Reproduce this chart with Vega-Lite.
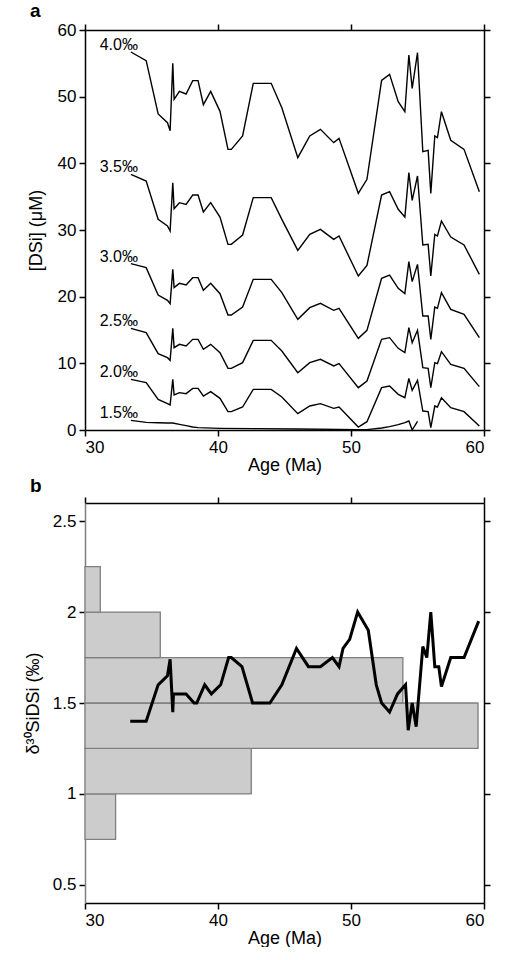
{
  "$schema": "https://vega.github.io/schema/vega-lite/v6.json",
  "padding": {"left": 24, "top": 2, "right": 5, "bottom": 0},
  "spacing": 3,
  "config": {
    "font": "Liberation Sans",
    "view": {"stroke": null},
    "axis": {
      "labelFontSize": 17, "titleFontSize": 18, "titleFontWeight": "normal",
      "labelColor": "black", "titleColor": "black", "domainColor": "black",
      "tickColor": "black", "domainWidth": 1.5, "tickWidth": 1.5, "tickSize": 6,
      "labelPadding": 3, "grid": false
    },
    "title": {"fontSize": 19, "fontWeight": "bold", "anchor": "start", "color": "black", "frame": "group"}
  },
  "datasets": {
    "curves": [
      {"c":"4.0","a":33.45,"v":56.7},{"c":"4.0","a":34.6,"v":55.4},{"c":"4.0","a":35.5,"v":47.4},{"c":"4.0","a":36.2,"v":46.1},{"c":"4.0","a":36.4,"v":44.9},{"c":"4.0","a":36.6,"v":55.0},{"c":"4.0","a":36.7,"v":49.6},{"c":"4.0","a":37.1,"v":50.8},{"c":"4.0","a":37.6,"v":50.4},{"c":"4.0","a":38.1,"v":52.4},{"c":"4.0","a":38.5,"v":52.4},{"c":"4.0","a":38.9,"v":48.8},{"c":"4.0","a":39.45,"v":50.8},{"c":"4.0","a":40.15,"v":47.8},{"c":"4.0","a":40.75,"v":42.1},{"c":"4.0","a":41.0,"v":42.1},{"c":"4.0","a":41.85,"v":44.1},{"c":"4.0","a":42.65,"v":52.0},{"c":"4.0","a":44.0,"v":52.0},{"c":"4.0","a":44.8,"v":48.35},{"c":"4.0","a":46.0,"v":40.85},{"c":"4.0","a":46.9,"v":44.1},{"c":"4.0","a":47.7,"v":45.1},{"c":"4.0","a":48.7,"v":43.1},{"c":"4.0","a":49.1,"v":43.75},{"c":"4.0","a":50.55,"v":35.5},{"c":"4.0","a":51.2,"v":37.6},{"c":"4.0","a":52.3,"v":52.45},{"c":"4.0","a":52.9,"v":53.35},{"c":"4.0","a":53.55,"v":49.25},{"c":"4.0","a":54.05,"v":47.75},{"c":"4.0","a":54.35,"v":56.25},{"c":"4.0","a":54.6,"v":51.25},{"c":"4.0","a":55.0,"v":56.6},{"c":"4.0","a":55.4,"v":41.75},{"c":"4.0","a":55.8,"v":41.95},{"c":"4.0","a":56.0,"v":35.5},{"c":"4.0","a":56.3,"v":44.1},{"c":"4.0","a":56.5,"v":43.85},{"c":"4.0","a":56.8,"v":47.75},{"c":"4.0","a":57.5,"v":43.45},{"c":"4.0","a":58.5,"v":42.1},{"c":"4.0","a":59.65,"v":35.75},
      {"c":"3.5","a":33.45,"v":38.35},{"c":"3.5","a":34.6,"v":37.35},{"c":"3.5","a":35.5,"v":31.6},{"c":"3.5","a":36.2,"v":30.6},{"c":"3.5","a":36.4,"v":29.85},{"c":"3.5","a":36.6,"v":37.1},{"c":"3.5","a":36.7,"v":33.2},{"c":"3.5","a":37.1,"v":34.1},{"c":"3.5","a":37.6,"v":33.85},{"c":"3.5","a":38.1,"v":35.25},{"c":"3.5","a":38.5,"v":35.25},{"c":"3.5","a":38.9,"v":32.7},{"c":"3.5","a":39.45,"v":34.1},{"c":"3.5","a":40.15,"v":31.95},{"c":"3.5","a":40.75,"v":27.85},{"c":"3.5","a":41.0,"v":27.85},{"c":"3.5","a":41.85,"v":29.25},{"c":"3.5","a":42.65,"v":34.85},{"c":"3.5","a":44.0,"v":34.85},{"c":"3.5","a":44.8,"v":31.6},{"c":"3.5","a":46.0,"v":26.95},{"c":"3.5","a":46.9,"v":29.35},{"c":"3.5","a":47.7,"v":30.1},{"c":"3.5","a":48.7,"v":28.6},{"c":"3.5","a":49.1,"v":29.1},{"c":"3.5","a":50.55,"v":23.1},{"c":"3.5","a":51.2,"v":24.7},{"c":"3.5","a":52.3,"v":35.25},{"c":"3.5","a":52.9,"v":35.75},{"c":"3.5","a":53.55,"v":33.1},{"c":"3.5","a":54.05,"v":31.95},{"c":"3.5","a":54.35,"v":38.6},{"c":"3.5","a":54.6,"v":34.45},{"c":"3.5","a":55.0,"v":38.1},{"c":"3.5","a":55.4,"v":27.75},{"c":"3.5","a":55.8,"v":27.85},{"c":"3.5","a":56.0,"v":23.1},{"c":"3.5","a":56.3,"v":29.35},{"c":"3.5","a":56.5,"v":29.1},{"c":"3.5","a":56.8,"v":31.35},{"c":"3.5","a":57.5,"v":28.95},{"c":"3.5","a":58.5,"v":27.75},{"c":"3.5","a":59.65,"v":23.35},
      {"c":"3.0","a":33.45,"v":24.95},{"c":"3.0","a":34.6,"v":24.35},{"c":"3.0","a":35.5,"v":20.25},{"c":"3.0","a":36.2,"v":19.45},{"c":"3.0","a":36.4,"v":18.95},{"c":"3.0","a":36.6,"v":24.1},{"c":"3.0","a":36.7,"v":21.35},{"c":"3.0","a":37.1,"v":22.0},{"c":"3.0","a":37.6,"v":21.75},{"c":"3.0","a":38.1,"v":22.85},{"c":"3.0","a":38.5,"v":22.85},{"c":"3.0","a":38.9,"v":20.95},{"c":"3.0","a":39.45,"v":22.0},{"c":"3.0","a":40.15,"v":20.45},{"c":"3.0","a":40.75,"v":17.25},{"c":"3.0","a":41.0,"v":17.25},{"c":"3.0","a":41.85,"v":18.45},{"c":"3.0","a":42.65,"v":22.6},{"c":"3.0","a":44.0,"v":22.6},{"c":"3.0","a":44.8,"v":20.6},{"c":"3.0","a":46.0,"v":16.6},{"c":"3.0","a":46.9,"v":18.35},{"c":"3.0","a":47.7,"v":19.0},{"c":"3.0","a":48.7,"v":17.95},{"c":"3.0","a":49.1,"v":18.25},{"c":"3.0","a":50.55,"v":13.75},{"c":"3.0","a":51.2,"v":14.95},{"c":"3.0","a":52.3,"v":22.75},{"c":"3.0","a":52.9,"v":23.25},{"c":"3.0","a":53.55,"v":21.25},{"c":"3.0","a":54.05,"v":20.45},{"c":"3.0","a":54.35,"v":25.25},{"c":"3.0","a":54.6,"v":22.25},{"c":"3.0","a":55.0,"v":24.85},{"c":"3.0","a":55.4,"v":17.1},{"c":"3.0","a":55.8,"v":17.1},{"c":"3.0","a":56.0,"v":13.6},{"c":"3.0","a":56.3,"v":18.45},{"c":"3.0","a":56.5,"v":18.25},{"c":"3.0","a":56.8,"v":20.6},{"c":"3.0","a":57.5,"v":18.1},{"c":"3.0","a":58.5,"v":17.35},{"c":"3.0","a":59.65,"v":13.85},
      {"c":"2.5","a":33.45,"v":15.25},{"c":"2.5","a":34.6,"v":14.6},{"c":"2.5","a":35.5,"v":11.45},{"c":"2.5","a":36.2,"v":10.85},{"c":"2.5","a":36.4,"v":10.45},{"c":"2.5","a":36.6,"v":15.25},{"c":"2.5","a":36.7,"v":12.35},{"c":"2.5","a":37.1,"v":12.85},{"c":"2.5","a":37.6,"v":12.6},{"c":"2.5","a":38.1,"v":13.6},{"c":"2.5","a":38.5,"v":13.6},{"c":"2.5","a":38.9,"v":12.1},{"c":"2.5","a":39.45,"v":12.85},{"c":"2.5","a":40.15,"v":11.6},{"c":"2.5","a":40.75,"v":9.25},{"c":"2.5","a":41.0,"v":9.25},{"c":"2.5","a":41.85,"v":10.1},{"c":"2.5","a":42.65,"v":13.45},{"c":"2.5","a":44.0,"v":13.45},{"c":"2.5","a":44.8,"v":11.85},{"c":"2.5","a":46.0,"v":8.6},{"c":"2.5","a":46.9,"v":10.1},{"c":"2.5","a":47.7,"v":10.6},{"c":"2.5","a":48.7,"v":9.6},{"c":"2.5","a":49.1,"v":9.95},{"c":"2.5","a":50.55,"v":6.35},{"c":"2.5","a":51.2,"v":7.35},{"c":"2.5","a":52.3,"v":13.6},{"c":"2.5","a":52.9,"v":13.85},{"c":"2.5","a":53.55,"v":12.25},{"c":"2.5","a":54.05,"v":11.6},{"c":"2.5","a":54.35,"v":15.35},{"c":"2.5","a":54.6,"v":13.1},{"c":"2.5","a":55.0,"v":14.95},{"c":"2.5","a":55.4,"v":9.35},{"c":"2.5","a":55.8,"v":9.25},{"c":"2.5","a":56.0,"v":6.35},{"c":"2.5","a":56.3,"v":10.1},{"c":"2.5","a":56.5,"v":9.95},{"c":"2.5","a":56.8,"v":11.75},{"c":"2.5","a":57.5,"v":9.85},{"c":"2.5","a":58.5,"v":9.25},{"c":"2.5","a":59.65,"v":6.5},
      {"c":"2.0","a":33.45,"v":7.6},{"c":"2.0","a":34.6,"v":7.1},{"c":"2.0","a":35.5,"v":4.6},{"c":"2.0","a":36.2,"v":3.95},{"c":"2.0","a":36.4,"v":3.75},{"c":"2.0","a":36.6,"v":7.6},{"c":"2.0","a":36.7,"v":5.25},{"c":"2.0","a":37.1,"v":5.6},{"c":"2.0","a":37.6,"v":5.45},{"c":"2.0","a":38.1,"v":6.25},{"c":"2.0","a":38.5,"v":6.25},{"c":"2.0","a":38.9,"v":5.1},{"c":"2.0","a":39.45,"v":5.75},{"c":"2.0","a":40.15,"v":4.75},{"c":"2.0","a":40.75,"v":2.75},{"c":"2.0","a":41.0,"v":2.75},{"c":"2.0","a":41.85,"v":3.45},{"c":"2.0","a":42.65,"v":6.1},{"c":"2.0","a":44.0,"v":6.1},{"c":"2.0","a":44.8,"v":4.95},{"c":"2.0","a":46.0,"v":2.45},{"c":"2.0","a":46.9,"v":3.6},{"c":"2.0","a":47.7,"v":3.95},{"c":"2.0","a":48.7,"v":3.25},{"c":"2.0","a":49.1,"v":3.45},{"c":"2.0","a":50.55,"v":0.45},{"c":"2.0","a":51.2,"v":1.25},{"c":"2.0","a":52.3,"v":6.35},{"c":"2.0","a":52.9,"v":6.6},{"c":"2.0","a":53.55,"v":5.35},{"c":"2.0","a":54.05,"v":4.85},{"c":"2.0","a":54.35,"v":7.75},{"c":"2.0","a":54.6,"v":5.95},{"c":"2.0","a":55.0,"v":7.45},{"c":"2.0","a":55.4,"v":2.85},{"c":"2.0","a":55.8,"v":2.75},{"c":"2.0","a":56.0,"v":0.35},{"c":"2.0","a":56.3,"v":3.6},{"c":"2.0","a":56.5,"v":3.45},{"c":"2.0","a":56.8,"v":4.85},{"c":"2.0","a":57.5,"v":3.35},{"c":"2.0","a":58.5,"v":2.75},{"c":"2.0","a":59.65,"v":0.6},
      {"c":"1.5","a":33.45,"v":1.45},{"c":"1.5","a":34.6,"v":1.15},{"c":"1.5","a":35.5,"v":1.08},{"c":"1.5","a":36.2,"v":1.05},{"c":"1.5","a":36.6,"v":1.05},{"c":"1.5","a":37.1,"v":0.85},{"c":"1.5","a":37.6,"v":0.65},{"c":"1.5","a":38.1,"v":0.45},{"c":"1.5","a":38.5,"v":0.35},{"c":"1.5","a":40.15,"v":0.25},{"c":"1.5","a":42.65,"v":0.2},{"c":"1.5","a":46.0,"v":0.15},{"c":"1.5","a":50.55,"v":0.05},{"c":"1.5","a":51.2,"v":0.05},{"c":"1.5","a":52.3,"v":0.3},{"c":"1.5","a":52.9,"v":0.5},{"c":"1.5","a":53.55,"v":0.8},{"c":"1.5","a":54.05,"v":1.1},{"c":"1.5","a":54.35,"v":1.35},{"c":"1.5","a":54.6,"v":0.0},{"c":"1.5","a":55.0,"v":1.3}
    ],
    "labels": [
      {"a":33.45,"v":56.7,"t":"4.0‰"},{"a":33.45,"v":38.35,"t":"3.5‰"},{"a":33.45,"v":24.95,"t":"3.0‰"},
      {"a":33.45,"v":15.25,"t":"2.5‰"},{"a":33.45,"v":7.6,"t":"2.0‰"},{"a":33.45,"v":1.45,"t":"1.5‰"}
    ],
    "hist": [
      {"lo":0.75,"hi":1.0,"end":32.3},{"lo":1.0,"hi":1.25,"end":42.5},{"lo":1.25,"hi":1.5,"end":59.55},
      {"lo":1.5,"hi":1.75,"end":53.9},{"lo":1.75,"hi":2.0,"end":35.66},{"lo":2.0,"hi":2.25,"end":31.15}
    ],
    "delta": [
      {"a":33.4,"d":1.4},{"a":34.6,"d":1.4},{"a":35.5,"d":1.6},{"a":36.2,"d":1.65},{"a":36.4,"d":1.74},{"a":36.6,"d":1.45},{"a":36.65,"d":1.55},{"a":37.6,"d":1.55},{"a":38.2,"d":1.5},{"a":38.4,"d":1.5},{"a":39.0,"d":1.6},{"a":39.5,"d":1.55},{"a":40.2,"d":1.6},{"a":40.8,"d":1.75},{"a":41.0,"d":1.75},{"a":41.8,"d":1.7},{"a":42.6,"d":1.5},{"a":43.9,"d":1.5},{"a":44.8,"d":1.6},{"a":45.9,"d":1.8},{"a":46.8,"d":1.7},{"a":47.7,"d":1.7},{"a":48.6,"d":1.75},{"a":49.1,"d":1.7},{"a":49.4,"d":1.8},{"a":49.9,"d":1.85},{"a":50.5,"d":2.0},{"a":51.3,"d":1.9},{"a":51.9,"d":1.6},{"a":52.3,"d":1.5},{"a":52.9,"d":1.45},{"a":53.5,"d":1.55},{"a":54.1,"d":1.6},{"a":54.3,"d":1.35},{"a":54.6,"d":1.5},{"a":54.9,"d":1.37},{"a":55.4,"d":1.81},{"a":55.7,"d":1.75},{"a":56.0,"d":2.0},{"a":56.3,"d":1.7},{"a":56.6,"d":1.7},{"a":56.8,"d":1.59},{"a":57.5,"d":1.75},{"a":58.5,"d":1.75},{"a":59.6,"d":1.95}
    ]
  },
  "vconcat": [
    {
      "title": {"text": "a", "dx": -55, "offset": 0},
      "width": 399, "height": 400,
      "layer": [
        {
          "data": {"name": "curves"},
          "mark": {"type": "line", "color": "black", "strokeWidth": 1.4},
          "encoding": {
            "x": {"field": "a", "type": "quantitative", "scale": {"domain": [30, 60]},
                  "axis": {"orient": "bottom", "values": [30,40,50,60], "title": "Age (Ma)", "titlePadding": 1}},
            "y": {"field": "v", "type": "quantitative", "scale": {"domain": [0, 60]},
                  "axis": {"orient": "left", "values": [0,10,20,30,40,50,60], "title": "[DSi] (μM)", "titlePadding": 12}},
            "detail": {"field": "c"}
          }
        },
        {
          "data": {"name": "labels"},
          "mark": {"type": "text", "align": "right", "baseline": "alphabetic", "dx": 7, "dy": -2, "fontSize": 16, "color": "black"},
          "encoding": {
            "x": {"field": "a", "type": "quantitative", "axis": null},
            "y": {"field": "v", "type": "quantitative", "axis": null},
            "text": {"field": "t"}
          }
        },
        {
          "data": {"name": "curves"},
          "mark": {"type": "point", "opacity": 0},
          "encoding": {
            "x": {"field": "a", "type": "quantitative",
                  "axis": {"orient": "top", "values": [30,40,50,60], "labels": false, "title": null}},
            "y": {"field": "v", "type": "quantitative",
                  "axis": {"orient": "right", "values": [0,10,20,30,40,50,60], "labels": false, "title": null}}
          }
        }
      ],
      "resolve": {"axis": {"x": "independent", "y": "independent"}}
    },
    {
      "title": {"text": "b", "dx": -55, "offset": 0},
      "width": 399, "height": 400,
      "layer": [
        {
          "data": {"name": "hist"},
          "mark": {"type": "bar", "fill": "#cccccc", "stroke": "#7f7f7f", "strokeWidth": 1.3},
          "encoding": {
            "x": {"field": "end", "type": "quantitative", "scale": {"domain": [30, 60]},
                  "axis": {"orient": "bottom", "values": [30,40,50,60], "title": "Age (Ma)", "titlePadding": 1}},
            "x2": {"datum": 30},
            "y": {"field": "lo", "type": "quantitative", "scale": {"domain": [0.5, 2.5]},
                  "axis": {"orient": "left", "values": [0.5,1,1.5,2,2.5], "format": ".1~f", "title": "δ³⁰SiDSi (‰)", "titlePadding": 10, "domainColor": "#7f7f7f"}},
            "y2": {"field": "hi"}
          }
        },
        {
          "data": {"name": "delta"},
          "mark": {"type": "line", "color": "black", "strokeWidth": 3},
          "encoding": {
            "x": {"field": "a", "type": "quantitative", "axis": null},
            "y": {"field": "d", "type": "quantitative", "axis": null}
          }
        },
        {
          "data": {"name": "delta"},
          "mark": {"type": "point", "opacity": 0},
          "encoding": {
            "x": {"field": "a", "type": "quantitative",
                  "axis": {"orient": "top", "values": [30,40,50,60], "labels": false, "title": null}},
            "y": {"field": "d", "type": "quantitative",
                  "axis": {"orient": "right", "values": [0.5,1,1.5,2,2.5], "labels": false, "title": null}}
          }
        }
      ],
      "resolve": {"axis": {"x": "independent", "y": "independent"}}
    }
  ]
}
